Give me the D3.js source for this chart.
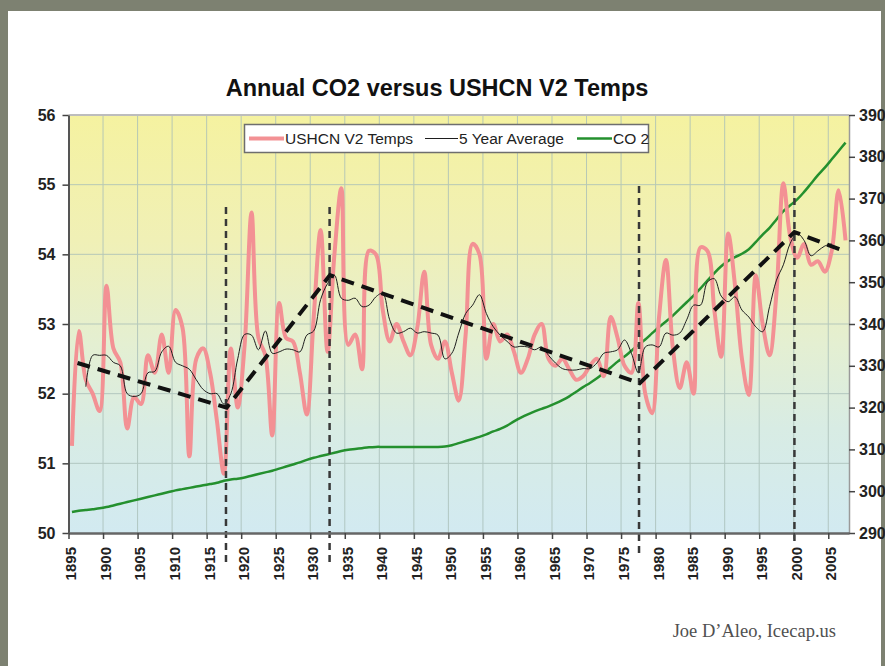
<!DOCTYPE html>
<html>
<head>
<meta charset="utf-8">
<script src="https://cdn.jsdelivr.net/npm/d3@7"></script>
<style>
    html, body {margin:0; padding:0; background:#7d8171;}
    svg {display:block;}
</style>
</head>
<body>
<svg id="chart" width="885" height="666"></svg>
<script>
// ---- data ----
const start_year= 1895

// annual USHCN V2 temps, 1895-2007
const temps= [
    51.25, 52.9, 52.2, 52.0, 51.75,
    53.55, 52.65, 52.45, 51.5, 51.95,
    51.85, 52.55, 52.3, 52.85, 52.3,
    53.2, 52.95, 51.1, 52.5, 52.65,
    52.3, 51.6, 50.85, 52.65, 51.8,
    52.7, 54.6, 52.8, 52.55, 51.4,
    53.3, 52.8, 52.75, 52.3, 51.7,
    53.1, 54.35, 52.6, 54.0, 54.95,
    52.7, 52.85, 52.35, 54.05, 54.0,
    53.2, 52.75, 53.0, 52.75, 52.55,
    52.95, 53.75, 52.7, 52.5, 52.75,
    52.3, 51.9, 52.85, 54.15, 54.0,
    52.5, 53.0, 52.75, 52.85, 52.6,
    52.3, 52.5, 52.85, 53.0, 52.5,
    52.4, 52.5, 52.35, 52.2, 52.25,
    52.4, 52.5, 52.25, 53.1, 52.8,
    52.4, 52.3, 53.3, 52.0, 51.72,
    53.1, 53.92, 52.65, 52.08, 52.45,
    52.0, 54.1, 54.05, 53.2, 52.53,
    54.3, 53.55, 52.5, 51.98, 53.7,
    53.0, 52.55, 53.45, 55.02, 54.25,
    53.95, 54.15, 53.85, 53.9, 53.75,
    54.05, 54.92, 54.2,
]

// 5 year average, 1897-2005
const avg_start= 1897
const avg5= [
    52.1, 52.55, 52.55,
    52.55, 52.45, 52.4, 52.0, 51.96,
    52.0, 52.3, 52.32, 52.6, 52.68,
    52.45, 52.4, 52.35, 52.2, 52.06,
    52.0, 52.0, 51.85, 52.0, 52.5,
    52.85, 52.84, 52.63, 52.9, 52.58,
    52.6, 52.64, 52.63, 52.6, 52.84,
    52.9, 53.35, 53.58, 53.7, 53.37,
    53.34, 53.37, 53.25, 53.27, 53.39,
    53.44, 53.06, 52.87, 52.89, 52.94,
    52.87, 52.89, 52.87, 52.84, 52.5,
    52.58, 52.87, 53.15, 53.27, 53.42,
    53.15, 52.96, 52.84, 52.75, 52.67,
    52.68, 52.67, 52.63, 52.67, 52.55,
    52.44, 52.36, 52.34, 52.34, 52.36,
    52.36, 52.44, 52.58, 52.6, 52.63,
    52.77, 52.58, 52.3, 52.67, 52.7,
    52.67, 52.87, 52.84, 52.87, 53.06,
    53.27, 53.27, 53.6, 53.65, 53.4,
    53.32, 53.39, 53.2, 53.1, 52.96,
    52.89, 53.25, 53.63, 53.85, 54.16,
    54.3, 54.2, 53.98, 54.05, 54.12,
    54.15,
]

// CO2 ppm, 1895-2007
const co2= [
    295.0, 295.3, 295.5, 295.7, 295.9,
    296.2, 296.6, 297.0, 297.4, 297.8,
    298.2, 298.6, 299.0, 299.4, 299.8,
    300.2, 300.5, 300.8, 301.1, 301.4,
    301.7, 302.0, 302.5, 302.8, 303.0,
    303.3, 303.7, 304.1, 304.5, 304.9,
    305.4, 305.9, 306.4, 306.9, 307.5,
    308.0, 308.4, 308.8, 309.2, 309.6,
    309.9, 310.1, 310.3, 310.5, 310.6,
    310.6, 310.6, 310.6, 310.6, 310.6,
    310.6, 310.6, 310.6, 310.6, 310.7,
    311.0, 311.5, 312.0, 312.5, 313.0,
    313.6, 314.3, 314.9, 315.7, 316.7,
    317.6, 318.4, 319.1, 319.7, 320.3,
    321.0, 321.8, 322.7, 323.8, 324.9,
    325.9, 327.0, 328.3, 329.6, 331.0,
    332.2, 333.6, 335.0, 336.3, 337.8,
    339.3, 340.6, 342.0, 343.6, 345.2,
    346.8, 348.5, 350.4, 352.2, 353.8,
    355.1, 356.0, 356.8, 357.9, 359.6,
    361.4, 363.0, 365.0, 367.0, 368.4,
    369.8, 371.6, 373.6, 375.6, 377.4,
    379.4, 381.4, 383.4,
]

// hand drawn trend (thick dashes) and break markers (thin dashes)
const trend_years= [1896.3, 1917.9, 1932.85, 1977.7, 2000.1, 2007.5]
const trend_temps= [52.44, 51.8, 53.7, 52.15, 54.32, 54.04]
const break_years= [1917.8, 1932.8, 1977.6, 2000.1]
const break_tops= [54.68, 54.68, 54.98, 54.98]
const break_bottoms= [49.58, 49.58, 49.68, 49.87]

const temp_ticks= [50, 51, 52, 53, 54, 55, 56]
const co2_ticks= [290, 300, 310, 320, 330, 340, 350, 360, 370, 380, 390]
const year_ticks= d3.range(1895, 2006, 5)

// ---- layout ----
const W= 885, H= 666
const plot= {left:68.5, right:849, top:115, bottom:533}
const label_font= "'Liberation Sans', Arial, sans-serif"

const svg= d3.select("#chart")

// page background + white panel
svg.append("rect").attr("width", W).attr("height", H).attr("fill", "#7d8171")
svg.append("rect").attr("x", 8).attr("y", 11).attr("width", W-12).attr("height", H-11).attr("fill", "#fff")

// scales
const x= d3.scaleLinear().domain([1895, 2008]).range([plot.left, plot.right])
const y_temp= d3.scaleLinear().domain([50, 56]).range([plot.bottom, plot.top])
const y_co2= d3.scaleLinear().domain([290, 390]).range([plot.bottom, plot.top])

// plot area gradient
const grad= svg.append("defs").append("linearGradient")
    .attr("id", "bg").attr("x1", 0).attr("y1", 0).attr("x2", 0).attr("y2", 1)
grad.selectAll("stop")
    .data([[0, "#f5f2a0"], [0.3, "#f0f0b6"], [0.55, "#e4efd2"], [0.75, "#d8ece4"], [1, "#d2eaf1"]])
    .join("stop")
    .attr("offset", d => d[0]).attr("stop-color", d => d[1])

svg.append("rect")
    .attr("x", plot.left).attr("y", plot.top)
    .attr("width", plot.right-plot.left).attr("height", plot.bottom-plot.top)
    .attr("fill", "url(#bg)")

// gridlines
const grid= svg.append("g").attr("stroke", "#a9bfb8").attr("stroke-width", 1).attr("opacity", 0.8)
grid.selectAll("line.h")
    .data(temp_ticks.slice(1, -1))
    .join("line").attr("class", "h")
    .attr("x1", plot.left).attr("x2", plot.right)
    .attr("y1", d => y_temp(d)).attr("y2", d => y_temp(d))
grid.selectAll("line.v")
    .data(year_ticks.slice(1))
    .join("line").attr("class", "v")
    .attr("y1", plot.top).attr("y2", plot.bottom)
    .attr("x1", d => x(d)).attr("x2", d => x(d))

// plot frame (top)
svg.append("line").attr("x1", plot.left).attr("x2", plot.right).attr("y1", plot.top).attr("y2", plot.top)
    .attr("stroke", "#bdbdbd").attr("stroke-width", 2)

// series: points sit in the middle of each year's category
const to_pts= (vals, first) => vals.map((v, i) => [first+i+0.5, v])
const smooth= (ys) => d3.line().x(d => x(d[0])).y(d => ys(d[1])).curve(d3.curveCatmullRom)

svg.append("path")
    .attr("d", smooth(y_co2)(to_pts(co2, start_year)))
    .attr("fill", "none").attr("stroke", "#24902e").attr("stroke-width", 2.5)

svg.append("path")
    .attr("d", smooth(y_temp)(to_pts(temps, start_year)))
    .attr("fill", "none").attr("stroke", "#f39194").attr("stroke-width", 4)
    .attr("stroke-linejoin", "round")

svg.append("path")
    .attr("d", smooth(y_temp)(to_pts(avg5, avg_start)))
    .attr("fill", "none").attr("stroke", "#1e1e1e").attr("stroke-width", 1)

// break markers
svg.append("g").selectAll("line")
    .data(break_years)
    .join("line")
    .attr("x1", d => x(d)).attr("x2", d => x(d))
    .attr("y1", (d, i) => y_temp(break_tops[i]))
    .attr("y2", (d, i) => y_temp(break_bottoms[i]))
    .attr("stroke", "#383838").attr("stroke-width", 2.5).attr("stroke-dasharray", "7,5")

// trend
svg.append("path")
    .attr("d", d3.line().x(d => x(d[0])).y(d => y_temp(d[1]))(trend_years.map((v, i) => [v, trend_temps[i]])))
    .attr("fill", "none").attr("stroke", "#111").attr("stroke-width", 4)
    .attr("stroke-dasharray", "13,8")

// axes
const style_axis= function(g, color, width, size) {
    g.select(".domain").attr("stroke", color).attr("stroke-width", width)
    g.selectAll(".tick line").attr("stroke", "#444").attr("stroke-width", 1.5)
    g.selectAll(".tick text")
        .attr("font-family", label_font).attr("font-weight", "bold")
        .attr("font-size", size).attr("fill", "#222")
}

svg.append("g")
    .attr("transform", `translate(${plot.left},0)`)
    .call(d3.axisLeft(y_temp).tickValues(temp_ticks).tickFormat(d3.format("d"))
        .tickSize(6).tickSizeOuter(0).tickPadding(7))
    .call(g => style_axis(g, "#555", 2, 16))

svg.append("g")
    .attr("transform", `translate(${plot.right},0)`)
    .call(d3.axisRight(y_co2).tickValues(co2_ticks).tickFormat(d3.format("d"))
        .tickSize(6).tickSizeOuter(0).tickPadding(4))
    .call(g => style_axis(g, "#9a9a9a", 1.5, 16))

svg.append("g")
    .attr("transform", `translate(0,${plot.bottom})`)
    .call(d3.axisBottom(x).tickValues(year_ticks).tickFormat(d3.format("d"))
        .tickSize(6).tickSizeOuter(0))
    .call(g => style_axis(g, "#666", 2.5, 15))
    .call(g => g.selectAll(".tick text")
        .attr("transform", "rotate(-90)")
        .attr("text-anchor", "end")
        .attr("x", -14).attr("y", 2).attr("dy", "0.36em"))

// title
svg.append("text")
    .attr("x", 437).attr("y", 95.5)
    .attr("text-anchor", "middle")
    .attr("font-family", label_font).attr("font-weight", "bold").attr("font-size", 23.5)
    .attr("fill", "#111")
    .text("Annual CO2 versus USHCN V2 Temps")

// legend
const legend= svg.append("g")
legend.append("rect")
    .attr("x", 244.5).attr("y", 124.5).attr("width", 404).attr("height", 28)
    .attr("fill", "#fff").attr("stroke", "#6e6e6e").attr("stroke-width", 1.5)

const legend_items= [
    {label:"USHCN V2 Temps", color:"#f39194", width:4, x0:249, x1:284},
    {label:"5 Year Average", color:"#1e1e1e", width:1, x0:425, x1:458},
    {label:"CO 2", color:"#24902e", width:2.5, x0:577, x1:612},
]
legend_items.forEach(function(d) {
    legend.append("line")
        .attr("x1", d.x0).attr("x2", d.x1).attr("y1", 138.5).attr("y2", 138.5)
        .attr("stroke", d.color).attr("stroke-width", d.width)
    legend.append("text")
        .attr("x", d.x1+1).attr("y", 144)
        .attr("font-family", label_font).attr("font-size", 15.5).attr("fill", "#222")
        .text(d.label)
})

// credit
svg.append("text")
    .attr("x", 836).attr("y", 637)
    .attr("text-anchor", "end")
    .attr("font-family", "'Liberation Serif', 'DejaVu Serif', serif").attr("font-size", 18.5)
    .attr("fill", "#505050")
    .text("Joe D\u2019Aleo, Icecap.us")
</script>
</body>
</html>
